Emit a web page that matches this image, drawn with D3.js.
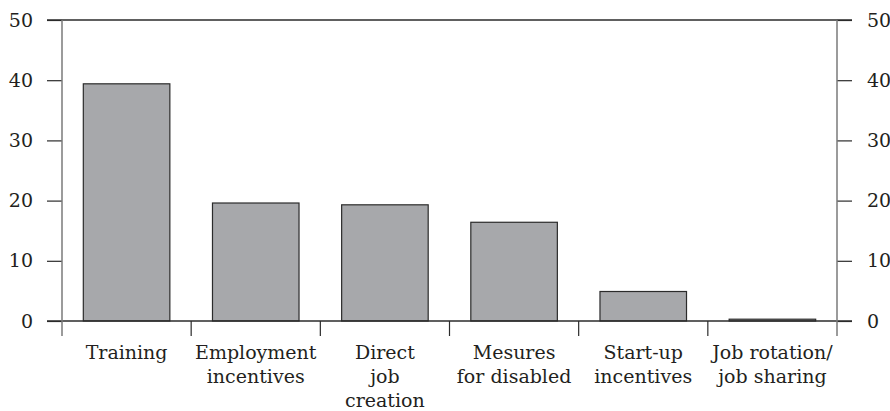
<!DOCTYPE html>
<html>
<head>
<meta charset="utf-8">
<script src="https://cdn.jsdelivr.net/npm/d3@7"></script>
<style>
html,body{margin:0;padding:0;background:#fff;}
svg{display:block;}
</style>
</head>
<body>
<svg id="chart" width="890" height="411"></svg>
<script>
const categories = ["Training", "Employment incentives", "Direct job creation", "Mesures for disabled", "Start-up incentives", "Job rotation/ job sharing"];
const categoryLines = [["Training"], ["Employment", "incentives"], ["Direct", "job", "creation"], ["Mesures", "for disabled"], ["Start-up", "incentives"], ["Job rotation/", "job sharing"]];
const values = [39.4, 19.6, 19.3, 16.4, 4.9, 0.3];
const yTicks = [0, 10, 20, 30, 40, 50];

(function () {
const FONT = "DejaVu Serif";
const svg = d3.select("#chart");
const mLeft = 62, mRight = 837, mTop = 20, mBottom = 321;
const tickLen = 15;

const x = d3.scaleBand().domain(categories).range([mLeft, mRight]).paddingInner(0).paddingOuter(0);
const y = d3.scaleLinear().domain([0, 50]).range([mBottom, mTop]);
const barRatio = 0.67;

// bars
svg.append("g").selectAll("rect").data(values).join("rect")
  .attr("x", (d, i) => x(categories[i]) + x.bandwidth() * (1 - barRatio) / 2)
  .attr("width", x.bandwidth() * barRatio)
  .attr("y", d => y(d))
  .attr("height", d => Math.max(1.5, y(0) - y(d)))
  .attr("fill", "#a7a8ab")
  .attr("stroke", "#2b2b2b")
  .attr("stroke-width", 1.2);

function styleAxis(g) {
  g.attr("font-family", FONT).attr("font-size", 19);
  g.select(".domain").remove();
  g.selectAll("line").attr("stroke", "#2b2b2b").attr("stroke-width", 1.2);
  g.selectAll("text").attr("font-family", FONT).attr("font-size", 19).attr("fill", "#231f20");
}

// left axis
svg.append("g").attr("transform", `translate(${mLeft},0)`)
  .call(d3.axisLeft(y).tickValues(yTicks).tickSize(tickLen).tickPadding(14).tickFormat(d3.format("d")))
  .call(styleAxis);

// right axis
svg.append("g").attr("transform", `translate(${mRight},0)`)
  .call(d3.axisRight(y).tickValues(yTicks).tickSize(tickLen).tickPadding(15).tickFormat(d3.format("d")))
  .call(styleAxis);

// horizontal top and zero lines
[50, 0].forEach(v => {
  svg.append("line")
    .attr("x1", mLeft - tickLen).attr("x2", mRight + tickLen)
    .attr("y1", y(v)).attr("y2", y(v))
    .attr("stroke", "#2b2b2b").attr("stroke-width", 1.3);
});

// vertical axis lines
[mLeft, mRight].forEach(xx => {
  svg.append("line")
    .attr("x1", xx).attr("x2", xx)
    .attr("y1", y(50)).attr("y2", y(0) + 15)
    .attr("stroke", "#7a7a7a").attr("stroke-width", 1.5);
});

// category separators
svg.append("g").selectAll("line").data(categories.slice(1)).join("line")
  .attr("x1", d => x(d)).attr("x2", d => x(d))
  .attr("y1", mBottom).attr("y2", mBottom + 15)
  .attr("stroke", "#2b2b2b").attr("stroke-width", 1.2);

// category labels
const lbl = svg.append("g").selectAll("text").data(categories).join("text")
  .attr("text-anchor", "middle")
  .attr("x", d => x(d) + x.bandwidth() / 2)
  .attr("y", 359)
  .attr("fill", "#231f20")
  .attr("font-family", FONT)
  .attr("font-size", 19);
lbl.each(function(d, i) {
  const t = d3.select(this);
  categoryLines[i].forEach((ln, j) => {
    t.append("tspan").attr("x", x(d) + x.bandwidth() / 2).attr("y", 359 + j * 24).text(ln);
  });
});
})();
</script>
</body>
</html>
